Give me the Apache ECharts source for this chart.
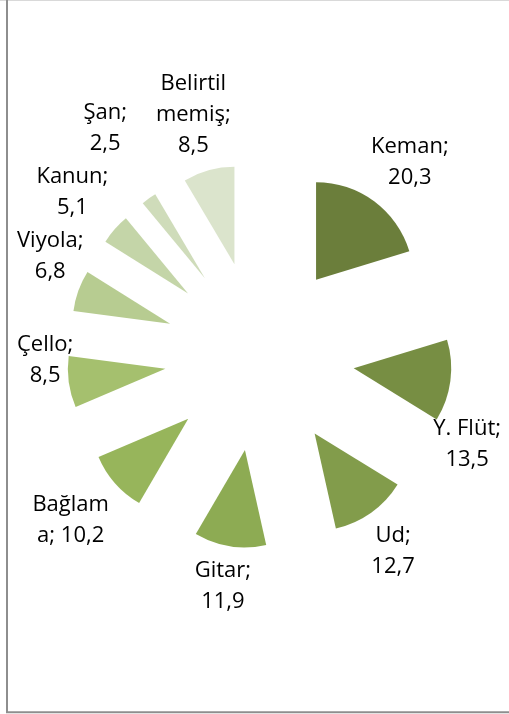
<!DOCTYPE html>
<html>
<head>
<meta charset="utf-8">
<script src="https://cdn.jsdelivr.net/npm/echarts@6/dist/echarts.min.js"></script>
<style>
  html, body { margin: 0; padding: 0; background: #fff; }
  #chart { width: 509px; height: 714px; }
</style>
</head>
<body>
<div id="chart"></div>
<script>
// data
const categories = ['Keman', 'Y. Flüt', 'Ud', 'Gitar', 'Bağlama', 'Çello', 'Viyola', 'Kanun', 'Şan', 'Belirtil memiş'];
const values = [20.3, 13.5, 12.7, 11.9, 10.2, 8.5, 6.8, 5.1, 2.5, 8.5];
const colors = ['#6b7e3b', '#778e43', '#829c4b', '#8dab53', '#97b55b', '#a5c06e', '#b7cc91', '#c4d5a8', '#cfdcba', '#dbe4cc'];

// layout
const CX = 259.5, CY = 356, RADIUS = 97.5, OFFSET = 95;
const FONT_FAMILY = 'Open Sans', FONT_SIZE = 22, LINE_H = 31;
const LABEL_R = 202, WRAP_W = 78;
const BOUNDS = { left: 17, right: 501, top: 5, bottom: 705 };

const ctx = document.createElement('canvas').getContext('2d');
ctx.font = FONT_SIZE + 'px "' + FONT_FAMILY + '"';
const textW = s => ctx.measureText(s).width;

// wrap at spaces, split a word that is too long by characters (like Excel does)
function wrap(text) {
  const lines = [];
  let cur = '';
  text.split(' ').forEach(word => {
    const trial = cur ? cur + ' ' + word : word;
    if (textW(trial) <= WRAP_W) { cur = trial; return; }
    if (cur) lines.push(cur);
    let w = word;
    while (textW(w) > WRAP_W) {
      let k = w.length;
      while (k > 1 && textW(w.slice(0, k)) > WRAP_W) k--;
      lines.push(w.slice(0, k));
      w = w.slice(k);
    }
    cur = w;
  });
  if (cur) lines.push(cur);
  return lines;
}

const fmt = v => String(v).replace('.', ',');
const labelLines = categories.map((c, i) => wrap(c + '; ' + fmt(values[i])));

function dir(deg) {
  const r = deg * Math.PI / 180;
  return [Math.sin(r), -Math.cos(r)];
}
const unit = t => Math.max(-1, Math.min(1, t));

const total = values.reduce((a, b) => a + b, 0);
let acc = 0;
const slices = values.map(v => {
  const a0 = acc / total * 360;
  acc += v;
  const a1 = acc / total * 360;
  const mid = (a0 + a1) / 2;
  const [ux, uy] = dir(mid);
  return { a0, a1, mid, ax: CX + ux * OFFSET, ay: CY + uy * OFFSET };
});

function inSlice(s, x, y) {
  const dx = x - s.ax, dy = y - s.ay;
  if (dx * dx + dy * dy > RADIUS * RADIUS) return false;
  let a = Math.atan2(dx, -dy) * 180 / Math.PI;
  if (a < 0) a += 360;
  return a >= s.a0 && a <= s.a1;
}

// outline points of every slice
const slicePts = slices.map(s => {
  const pts = [[s.ax, s.ay]];
  for (let a = s.a0; a <= s.a1; a += 2) {
    const [ux, uy] = dir(a);
    pts.push([s.ax + ux * RADIUS, s.ay + uy * RADIUS]);
  }
  [s.a0, s.a1].forEach(a => {
    const [ux, uy] = dir(a);
    for (let t = 0; t <= RADIUS; t += 6) pts.push([s.ax + ux * t, s.ay + uy * t]);
  });
  return pts;
});

// one box per text line; half = half height used for the box
function lineBoxes(lines, x, y, half) {
  const h = lines.length * LINE_H;
  return lines.map((ln, k) => {
    const w = textW(ln);
    const my = y - h / 2 + LINE_H * (k + 0.5);
    return { x0: x - w / 2 + 1, x1: x + w / 2 - 1, y0: my - half, y1: my + half };
  });
}

function boxHitsSlices(b) {
  for (let x = b.x0; x <= b.x1 + 0.01; x += Math.max(1, (b.x1 - b.x0) / 12)) {
    for (let y = b.y0; y <= b.y1 + 0.01; y += (b.y1 - b.y0) / 4) {
      for (const s of slices) if (inSlice(s, x, y)) return true;
    }
  }
  for (const pts of slicePts) {
    for (const p of pts) {
      if (p[0] > b.x0 && p[0] < b.x1 && p[1] > b.y0 && p[1] < b.y1) return true;
    }
  }
  return false;
}

const overlap = (a, b) => a.x0 < b.x1 + 14 && b.x0 < a.x1 + 14 && a.y0 < b.y1 && b.y0 < a.y1;

// candidate moves: rotate along the pie (clockwise preferred) or push outwards
const combos = [];
for (let d = -60; d <= 60; d++) {
  for (let e = 0; e <= 160; e += 2) combos.push([d, e, (d < 0 ? 3 : 1) * Math.abs(d) + 0.05 * e]);
}
combos.sort((p, q) => p[2] - q[2]);

const placed = [];
const labelPos = labelLines.map((lines, i) => {
  const w = Math.max(...lines.map(textW));
  const h = lines.length * LINE_H;
  for (const [d, e] of combos) {
    const [ux, uy] = dir(slices[i].mid + d);
    let x = CX + ux * (LABEL_R + e) + unit(ux * 1.3) * w / 2;
    const y = CY + uy * (LABEL_R + e) + unit(uy * 3) * h / 2;
    x = Math.min(Math.max(x, BOUNDS.left + w / 2), BOUNDS.right - w / 2);
    if (y - h / 2 < BOUNDS.top || y + h / 2 > BOUNDS.bottom) continue;
    if (lineBoxes(lines, x, y, 10).some(boxHitsSlices)) continue;
    const full = lineBoxes(lines, x, y, LINE_H / 2);
    if (full.some(b => placed.some(p => overlap(b, p)))) continue;
    placed.push(...full);
    return { x, y };
  }
  return { x: CX, y: CY };
});

const pieData = categories.map((c, i) => ({ name: c, value: values[i] }));

const chart = echarts.init(document.getElementById('chart'));
chart.setOption({
  animation: false,
  backgroundColor: '#fff',
  graphic: [
    { type: 'line', shape: { x1: 0, y1: 0.5, x2: 509, y2: 0.5 }, style: { stroke: '#d9d9d9', lineWidth: 1 } },
    { type: 'line', shape: { x1: 7, y1: 0, x2: 7, y2: 713 }, style: { stroke: '#8e8e8e', lineWidth: 2 } },
    { type: 'line', shape: { x1: 6, y1: 712.3, x2: 509, y2: 712.3 }, style: { stroke: '#8e8e8e', lineWidth: 2 } }
  ],
  series: [
    {
      // exploded slices
      type: 'pie',
      center: [CX, CY],
      radius: RADIUS,
      startAngle: 90,
      clockwise: true,
      selectedMode: 'multiple',
      selectedOffset: OFFSET,
      emphasis: { disabled: true },
      label: { show: false },
      labelLine: { show: false },
      data: pieData.map((d, i) => ({ ...d, selected: true, itemStyle: { color: colors[i] } }))
    },
    {
      // data labels
      type: 'pie',
      center: [CX, CY],
      radius: RADIUS,
      startAngle: 90,
      clockwise: true,
      silent: true,
      selectedMode: false,
      avoidLabelOverlap: false,
      emphasis: { disabled: true },
      itemStyle: { color: 'rgba(0,0,0,0)' },
      labelLine: { show: false },
      label: {
        show: true,
        position: 'outside',
        color: '#000',
        fontFamily: FONT_FAMILY,
        fontSize: FONT_SIZE,
        lineHeight: LINE_H,
        align: 'center',
        formatter: p => labelLines[p.dataIndex].join('\n')
      },
      labelLayout: p => ({
        x: labelPos[p.dataIndex].x,
        y: labelPos[p.dataIndex].y,
        align: 'center',
        verticalAlign: 'middle'
      }),
      data: pieData
    }
  ]
});
</script>
</body>
</html>
